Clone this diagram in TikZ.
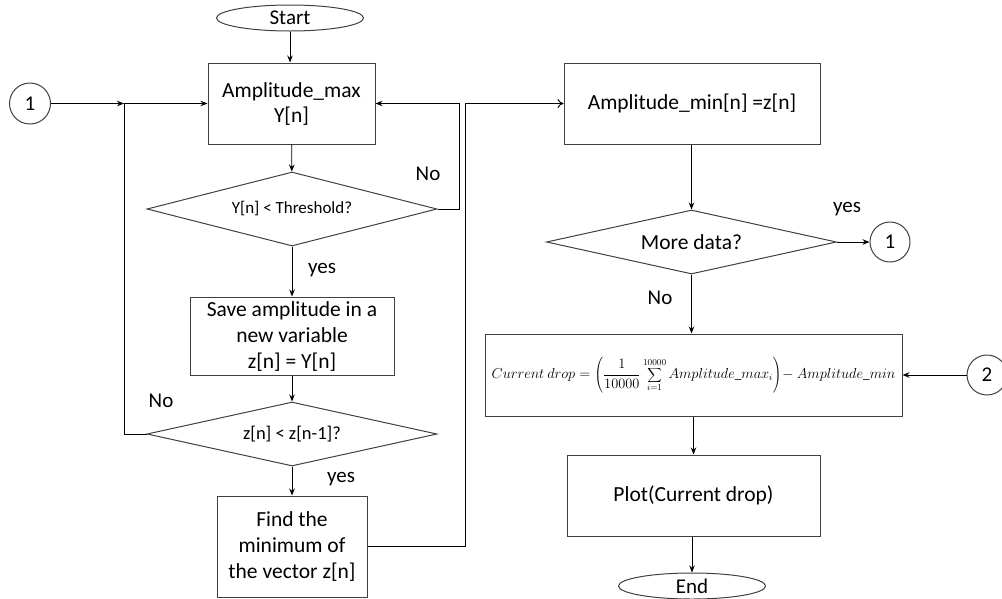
\documentclass[tikz,border=0pt]{standalone}
\usepackage{fontspec}
\setmainfont{Carlito}
\usetikzlibrary{shapes.geometric,arrows.meta}
\begin{document}
\begin{tikzpicture}[x=1pt,y=-1pt,
  shapeline/.style={draw=black!75,line width=1pt},
  procbox/.style={shapeline,rectangle,inner sep=0pt,align=center,font=\fontsize{21.5}{26}\selectfont},
  decbox/.style={shapeline,diamond,inner sep=0pt,align=center,aspect=5},
  termbox/.style={shapeline,ellipse,inner sep=0pt,minimum width=147pt,minimum height=26pt,font=\fontsize{21}{24}\selectfont},
  connbox/.style={shapeline,circle,inner sep=0pt,minimum size=40pt,font=\fontsize{21}{24}\selectfont},
  flow/.style={line width=0.9pt,-{Stealth[length=7pt,width=5.5pt]}},
  plainline/.style={line width=0.9pt},
  openflow/.style={line width=0.9pt,-{To[length=6pt,width=9pt]}},
  lbl/.style={font=\fontsize{21}{24}\selectfont,inner sep=0pt}
]
\useasboundingbox (0,0) rectangle (1002,598);

% left column
\node[termbox] (start) at (290,18) {Start};
\node[procbox,minimum width=167pt,minimum height=81pt,font=\fontsize{21.5}{25}\selectfont] (amax) at (291.5,103.5) {Amplitude\_max\\Y[n]};
\node[decbox,minimum width=290pt,minimum height=74pt,font=\fontsize{17}{20}\selectfont] (d1) at (292,209) {Y[n] < Threshold?};
\node[procbox,minimum width=204pt,minimum height=78pt] (save) at (292,336) {Save amplitude in a\\new variable\\z[n] = Y[n]};
\node[decbox,minimum width=290pt,minimum height=64pt,font=\fontsize{18.5}{21}\selectfont] (d2) at (292,434) {z[n] < z[n-1]?};
\node[procbox,minimum width=150pt,minimum height=101pt] (findmin) at (292,546.5) {Find the\\minimum of\\the vector z[n]};
\node[connbox,minimum size=41pt] (c1a) at (30,103.5) {1};
\coordinate (j1) at (124,103.5);

% right column
\node[procbox,minimum width=256pt,minimum height=81pt] (amin) at (692,103.5) {Amplitude\_min[n] =z[n]};
\node[decbox,minimum width=290pt,minimum height=64pt,font=\fontsize{21.5}{24}\selectfont] (d3) at (691.5,242) {More data?};
\node[connbox] (c1b) at (890,242) {1};
\node[procbox,minimum width=417pt,minimum height=82pt,font=\fontsize{13.3}{15}\selectfont] (formula) at (693.5,375)
  {$\displaystyle Current\ drop=\left(\frac{1}{10000}\sum_{i=1}^{10000} Amplitude\_max_i\right)\!-Amplitude\_min$};
\node[connbox] (c2) at (987,375) {2};
\node[procbox,minimum width=253pt,minimum height=81pt] (plot) at (693.5,495.5) {Plot(Current drop)};
\node[termbox] (end) at (692,586) {End};

% connectors left column
\draw[flow] (start.south) -- (start.south |- amax.north);
\draw[flow] (amax) -- (d1);
\draw[flow] (d1) -- (save);
\draw[flow] (d1.east) -- (459,209) -- (459,103.5) -- (amax.east);
\draw[flow] (save) -- (d2);
\draw[flow] (d2) -- (findmin);
\draw[plainline] (d2.west) -- (d2.west -| j1) -- (j1);
\draw[flow] (j1) -- (amax.west);
\draw[flow] (c1a.east) -- (j1);
\draw[openflow] (findmin.east) -- (465,546.5) -- (465,103.5) -- (amin.west);

% connectors right column
\draw[flow] (amin.south -| d3.north) -- (d3.north);
\draw[flow] (d3.east) -- (c1b.west);
\draw[flow] (d3.south) -- (d3.south |- formula.north);
\draw[flow] (c2.west) -- (formula.east);
\draw[flow] (formula.south -| plot.north) -- (plot.north);
\draw[flow] (plot.south -| end.north) -- (end.north);

% labels
\node[lbl] (lno1) at (428,174) {No};
\node[lbl] (lyes1) at (322,270) {yes};
\node[lbl] (lno2) at (161,401) {No};
\node[lbl] (lyes2) at (341,479) {yes};
\node[lbl] (lyes3) at (847,209) {yes};
\node[lbl] (lno3) at (660,298) {No};
\end{tikzpicture}
\end{document}
